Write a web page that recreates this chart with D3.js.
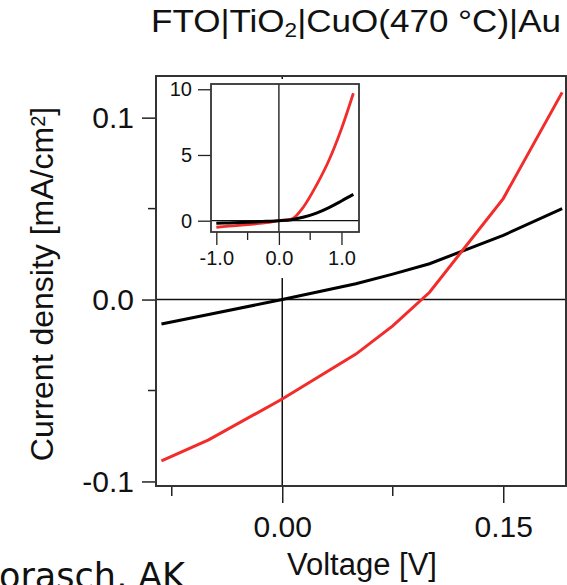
<!DOCTYPE html>
<html>
<head>
<meta charset="utf-8">
<script src="https://cdn.jsdelivr.net/npm/d3@7"></script>
<style>
  body { margin: 0; background: #fff; }
  svg { display: block; }
  .lbl { font-family: "Liberation Sans", Arial, Helvetica, sans-serif; fill: #111; }
  .axis path, .axis line { stroke: #222; }
</style>
</head>
<body>
<svg class="chart"></svg>
<script>
// main plot: zoomed IV curves around origin
var mainV = [-0.082, -0.05, 0, 0.05, 0.075, 0.1, 0.15, 0.19];
var mainRed = [-0.0887, -0.0771, -0.0547, -0.030, -0.0145, 0.004, 0.0555, 0.1139];
var mainBlack = [-0.0134, -0.0082, 0, 0.0087, 0.0140, 0.0197, 0.0353, 0.0500];

// inset: full sweep
var insetV = [-1.0, -0.8, -0.6, -0.4, -0.2, 0, 0.2, 0.4, 0.6, 0.8, 1.0, 1.19];
var insetRed = [-0.5, -0.42, -0.34, -0.25, -0.15, 0, 0.12, 1.1, 2.7, 4.6, 7.0, 9.7];
var insetBlack = [-0.2, -0.17, -0.14, -0.1, -0.05, 0, 0.08, 0.28, 0.58, 1.0, 1.5, 2.0];

var xMajor = [0, 0.15], xMinor = [-0.075, 0.075];
var xLabels = ["0.00", "0.15"];
var yMajor = [-0.1, 0, 0.1], yMinor = [-0.05, 0.05];
var yLabels = ["-0.1", "0.0", "0.1"];
var insetXMajor = [-1, 0, 1], insetXMinor = [-0.5, 0.5];
var insetXLabels = ["-1.0", "0.0", "1.0"];
var insetYMajor = [0, 5, 10];

var red = "#f22b2b";

var chart = d3.select(".chart")
  .attr("width", 567)
  .attr("height", 585);

var ui = { left: 156, right: 566, top: 76, bottom: 486 };

var x = d3.scaleLinear().domain([-0.0857, 0.1926]).range([ui.left, ui.right]);
var y = d3.scaleLinear().domain([-0.1025, 0.1229]).range([ui.bottom, ui.top]);

// zero lines
chart.append("line")
  .attr("x1", ui.left).attr("x2", ui.right)
  .attr("y1", y(0)).attr("y2", y(0))
  .attr("stroke", "#111").attr("stroke-width", 1.5);
chart.append("line")
  .attr("x1", x(0)).attr("x2", x(0))
  .attr("y1", ui.top).attr("y2", ui.bottom)
  .attr("stroke", "#111").attr("stroke-width", 1.5);

function mkLine(sx, sy, xs) {
  return d3.line()
    .x(function(d, i) { return sx(xs[i]); })
    .y(function(d) { return sy(d); });
}

// inset background hides the zero line behind it
chart.append("rect")
  .attr("x", 162).attr("y", 79).attr("width", 203).attr("height", 199)
  .attr("fill", "#fff");

chart.append("path")
  .attr("d", mkLine(x, y, mainV)(mainBlack))
  .attr("fill", "none").attr("stroke", "#000").attr("stroke-width", 3);
chart.append("path")
  .attr("d", mkLine(x, y, mainV)(mainRed))
  .attr("fill", "none").attr("stroke", red).attr("stroke-width", 3);

// axes
var xAxis = d3.axisBottom(x).tickValues(xMajor).tickSize(17).tickSizeOuter(0)
  .tickFormat(function(d, i) { return xLabels[i]; }).tickPadding(13);
var gx = chart.append("g").attr("class", "axis")
  .attr("transform", "translate(0," + ui.bottom + ")").call(xAxis);
gx.select(".domain").remove();
gx.selectAll("line").attr("stroke-width", 1.5);
gx.selectAll("text").attr("class", "lbl").style("font-size", "30px").attr("fill", "#111");
gx.append("g").selectAll("line").data(xMinor).enter().append("line")
  .attr("x1", function(d) { return x(d); }).attr("x2", function(d) { return x(d); })
  .attr("y1", 0).attr("y2", 10).attr("stroke", "#222").attr("stroke-width", 1.5);

var yAxis = d3.axisLeft(y).tickValues(yMajor).tickSize(14).tickSizeOuter(0)
  .tickFormat(function(d, i) { return yLabels[i]; }).tickPadding(8);
var gy = chart.append("g").attr("class", "axis")
  .attr("transform", "translate(" + ui.left + ",0)").call(yAxis);
gy.select(".domain").remove();
gy.selectAll("line").attr("stroke-width", 1.5);
gy.selectAll("text").attr("class", "lbl").style("font-size", "30px").attr("fill", "#111");
gy.append("g").selectAll("line").data(yMinor).enter().append("line")
  .attr("y1", function(d) { return y(d); }).attr("y2", function(d) { return y(d); })
  .attr("x1", 0).attr("x2", -8).attr("stroke", "#222").attr("stroke-width", 1.5);

// frame
chart.append("rect")
  .attr("x", ui.left).attr("y", ui.top)
  .attr("width", ui.right - ui.left).attr("height", ui.bottom - ui.top)
  .attr("fill", "none").attr("stroke", "#333").attr("stroke-width", 2);

// inset
var inset = { left: 211, right: 359, top: 84, bottom: 232 };
var ix = d3.scaleLinear().domain([-1.085, 1.28]).range([inset.left, inset.right]);
var iy = d3.scaleLinear().domain([-0.86, 10.4]).range([inset.bottom, inset.top]);

chart.append("line")
  .attr("x1", ix(0)).attr("x2", ix(0)).attr("y1", inset.top).attr("y2", inset.bottom)
  .attr("stroke", "#111").attr("stroke-width", 1.3);
chart.append("line")
  .attr("x1", inset.left).attr("x2", inset.right).attr("y1", iy(0)).attr("y2", iy(0))
  .attr("stroke", "#111").attr("stroke-width", 1.3);

chart.append("path")
  .attr("d", mkLine(ix, iy, insetV).curve(d3.curveMonotoneX)(insetRed))
  .attr("fill", "none").attr("stroke", red).attr("stroke-width", 2.8);
chart.append("path")
  .attr("d", mkLine(ix, iy, insetV).curve(d3.curveMonotoneX)(insetBlack))
  .attr("fill", "none").attr("stroke", "#000").attr("stroke-width", 3);

var ixAxis = d3.axisBottom(ix).tickValues(insetXMajor).tickSize(13).tickSizeOuter(0)
  .tickFormat(function(d, i) { return insetXLabels[i]; }).tickPadding(6);
var gix = chart.append("g").attr("class", "axis")
  .attr("transform", "translate(0," + inset.bottom + ")").call(ixAxis);
gix.select(".domain").remove();
gix.selectAll("line").attr("stroke-width", 1.3);
gix.selectAll("text").attr("class", "lbl").style("font-size", "20px").attr("fill", "#111");
gix.append("g").selectAll("line").data(insetXMinor).enter().append("line")
  .attr("x1", function(d) { return ix(d); }).attr("x2", function(d) { return ix(d); })
  .attr("y1", 0).attr("y2", 8).attr("stroke", "#222").attr("stroke-width", 1.3);

var iyAxis = d3.axisLeft(iy).tickValues(insetYMajor).tickSize(13).tickSizeOuter(0)
  .tickFormat(d3.format("d")).tickPadding(6);
var giy = chart.append("g").attr("class", "axis")
  .attr("transform", "translate(" + inset.left + ",0)").call(iyAxis);
giy.select(".domain").remove();
giy.selectAll("line").attr("stroke-width", 1.3);
giy.selectAll("text").attr("class", "lbl").style("font-size", "20px").attr("fill", "#111");

chart.append("rect")
  .attr("x", inset.left).attr("y", inset.top)
  .attr("width", inset.right - inset.left).attr("height", inset.bottom - inset.top)
  .attr("fill", "none").attr("stroke", "#333").attr("stroke-width", 1.8);

// texts
var title = chart.append("text").attr("class", "lbl")
  .attr("x", 151).attr("y", 32)
  .attr("textLength", 410).attr("lengthAdjust", "spacingAndGlyphs")
  .style("font-size", "31px");
title.append("tspan").text("FTO|TiO");
title.append("tspan").attr("baseline-shift", "-25%").style("font-size", "20px").text("2");
title.append("tspan").text("|CuO(470 °C)|Au");

chart.append("text").attr("class", "lbl")
  .attr("x", 362).attr("y", 575)
  .attr("text-anchor", "middle")
  .style("font-size", "31px")
  .text("Voltage [V]");

var ylab = chart.append("text").attr("class", "lbl")
  .attr("transform", "translate(53,284) rotate(-90)")
  .attr("text-anchor", "middle")
  .style("font-size", "32px");
ylab.append("tspan").text("Current density [mA/cm");
ylab.append("tspan").attr("baseline-shift", "40%").style("font-size", "20px").text("2");
ylab.append("tspan").text("]");

chart.append("text")
  .attr("x", -1).attr("y", 588)
  .style("font-family", "'DejaVu Sans', Verdana, sans-serif")
  .style("font-size", "35px")
  .attr("fill", "#111")
  .text("orasch, AK");
</script>
</body>
</html>
